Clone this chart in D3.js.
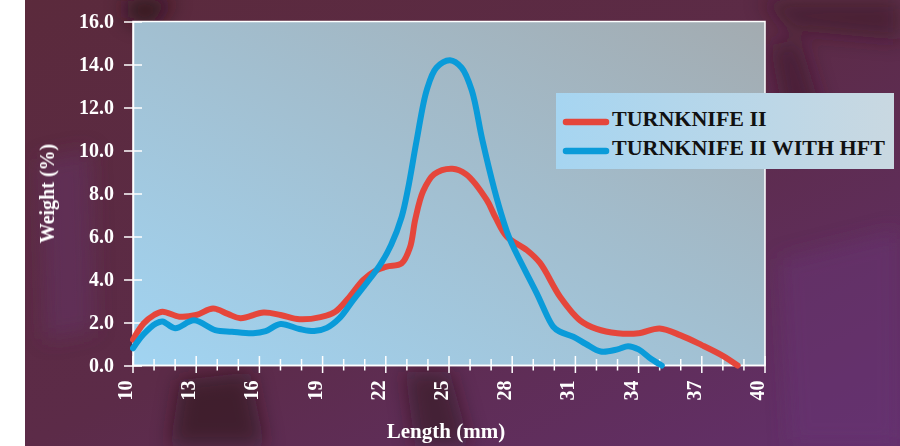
<!DOCTYPE html>
<html>
<head>
<meta charset="utf-8">
<script src="https://cdn.jsdelivr.net/npm/d3@7"></script>
<style>
  body { margin: 0; background: #fff; }
  svg { display: block; }
</style>
</head>
<body>
<svg id="chart"></svg>
<script>
// values: [length mm, weight %]
const turnknife = [
  [10, 1.2], [10.5, 1.95], [11, 2.35], [11.4, 2.5], [12.2, 2.27], [13, 2.35],
  [13.8, 2.65], [14.5, 2.4], [15.1, 2.2], [16.2, 2.46], [17, 2.35], [17.9, 2.15],
  [18.9, 2.25], [19.6, 2.5], [20.2, 3.1], [20.93, 3.98], [21.5, 4.4], [22.04, 4.6],
  [22.75, 4.75], [23.15, 5.5], [23.4, 6.8], [23.77, 8.1], [24.3, 8.9], [25.16, 9.15],
  [25.8, 8.9], [26.79, 7.7], [27.2, 6.9], [27.74, 6.0], [28.69, 5.37], [29.32, 4.77],
  [30.27, 3.2], [31.22, 2.1], [32, 1.7], [33, 1.5], [34, 1.5], [35, 1.72],
  [36, 1.4], [37, 0.95], [38, 0.45], [38.7, 0]
];
const turnknifeHft = [
  [10, 0.8], [10.5, 1.45], [11.1, 1.96], [11.4, 2.05], [12, 1.73], [12.9, 2.1],
  [13.9, 1.65], [14.7, 1.57], [15.7, 1.5], [16.3, 1.6], [17, 1.93], [17.9, 1.7],
  [18.6, 1.6], [19.2, 1.75], [19.8, 2.2], [20.46, 3.05], [21.1, 3.85], [21.72, 4.67],
  [22.25, 5.6], [22.75, 6.9], [23.05, 8.2], [23.47, 10.5], [23.94, 12.8], [24.4, 13.85],
  [25.05, 14.2], [25.6, 13.85], [26.08, 12.8], [26.58, 10.5], [27.15, 8.2], [27.56, 6.8],
  [27.9, 5.84], [29.16, 3.37], [29.95, 1.8], [30.27, 1.57], [30.9, 1.34], [31.5, 1.0],
  [32.2, 0.65], [33, 0.75], [33.5, 0.9], [34, 0.75], [34.6, 0.3], [35.1, 0]
];
const seriesNames = ["TURNKNIFE II", "TURNKNIFE II WITH HFT"];
const xTickLabels = [10, 13, 16, 19, 22, 25, 28, 31, 34, 37, 40];
const yTickLabels = [0, 2, 4, 6, 8, 10, 12, 14, 16];

const width = 900, height = 446;
const margin = { left: 133, right: 135, top: 21.5, bottom: 80.5 };
const colors = ["#e5463b", "#0a9bd9"];
const font = "'Liberation Serif', 'Times New Roman', serif";

const svg = d3.select("#chart").attr("width", width).attr("height", height);
const defs = svg.append("defs");

// backdrop (photo-like purple texture, starts 25px in from the left)
const bg = defs.append("linearGradient").attr("id", "bg")
  .attr("x1", 0).attr("y1", 0).attr("x2", 1).attr("y2", 1);
bg.append("stop").attr("offset", 0).attr("stop-color", "#5b2a3c");
bg.append("stop").attr("offset", 0.5).attr("stop-color", "#5c2b48");
bg.append("stop").attr("offset", 1).attr("stop-color", "#63306c");
defs.append("clipPath").attr("id", "bgclip")
  .append("rect").attr("x", 25).attr("y", 0).attr("width", width - 25).attr("height", height);
defs.append("filter").attr("id", "blur")
  .attr("filterUnits", "userSpaceOnUse")
  .attr("x", -100).attr("y", -100).attr("width", width + 200).attr("height", height + 200)
  .append("feGaussianBlur").attr("stdDeviation", 10);

const back = svg.append("g").attr("clip-path", "url(#bgclip)");
back.append("rect").attr("x", 25).attr("y", 0).attr("width", width - 25).attr("height", height)
  .attr("fill", "url(#bg)");
const blobs = back.append("g").attr("filter", "url(#blur)");
const shade = (pts, fill, op) => blobs.append("path")
  .attr("d", d3.line()(pts) + "Z").attr("fill", fill).attr("opacity", op);
shade([[125, 0], [175, 0], [150, 25], [128, 18]], "#240b14", 0.85);
shade([[180, 380], [250, 372], [265, 446], [170, 446]], "#2a0e16", 0.55);
shade([[405, 372], [450, 372], [470, 446], [415, 446]], "#2b0f18", 0.5);
shade([[770, 45], [800, 40], [830, 140], [790, 150]], "#3a1425", 0.55);
shade([[760, 0], [900, 0], [900, 40], [790, 30]], "#3a1426", 0.5);
shade([[40, 160], [90, 150], [95, 330], [45, 340]], "#66316d", 0.45);
shade([[780, 260], [900, 230], [900, 446], [790, 446]], "#693278", 0.45);

const x = d3.scaleLinear().domain([10, 40]).range([margin.left, width - margin.right]);
const y = d3.scaleLinear().domain([0, 16]).range([height - margin.bottom, margin.top]);

// plot area
const pg = defs.append("linearGradient").attr("id", "plotbg")
  .attr("x1", 0).attr("y1", 1).attr("x2", 1).attr("y2", 0);
pg.append("stop").attr("offset", 0).attr("stop-color", "#a1d4f2");
pg.append("stop").attr("offset", 1).attr("stop-color", "#a3abb0");
svg.append("rect")
  .attr("x", x(10)).attr("y", y(16))
  .attr("width", x(40) - x(10)).attr("height", y(0) - y(16))
  .attr("fill", "url(#plotbg)")
  .attr("stroke", "#fff").attr("stroke-width", 1.5);

// y axis
const yAxis = svg.append("g")
  .attr("transform", `translate(${x(10)},0)`)
  .call(d3.axisLeft(y).tickValues(yTickLabels).tickFormat(d3.format(".1f")).tickSize(0).tickPadding(19));
yAxis.select(".domain").attr("stroke", "#fff").attr("stroke-width", 1.5);
yAxis.selectAll(".tick line").attr("x1", -9).attr("x2", 9).attr("stroke", "#fff").attr("stroke-width", 1.5);
yAxis.selectAll(".tick text")
  .attr("fill", "#fff").attr("font-family", font).attr("font-weight", "bold").attr("font-size", 20);

// x axis: minor ticks every 1 mm, labelled every 3 mm
const xAxis = svg.append("g").attr("transform", `translate(0,${y(0)})`);
xAxis.append("line").attr("x1", x(10)).attr("x2", x(40)).attr("stroke", "#fff").attr("stroke-width", 1.5);
xAxis.selectAll(".minor").data(d3.range(10, 41)).join("line")
  .attr("x1", d => x(d)).attr("x2", d => x(d))
  .attr("y1", d => xTickLabels.includes(d) ? -9.5 : -6.5)
  .attr("y2", d => xTickLabels.includes(d) ? 7.5 : 5)
  .attr("stroke", "#fff").attr("stroke-width", 1.5);
xAxis.selectAll(".xlabel").data(xTickLabels).join("text")
  .attr("transform", d => `translate(${x(d) - 1},15) rotate(-90)`)
  .attr("text-anchor", "end")
  .attr("fill", "#fff").attr("font-family", font).attr("font-weight", "bold").attr("font-size", 20)
  .text(d => d);

// axis titles
svg.append("text")
  .attr("transform", `translate(54,${(y(0) + y(16)) / 2}) rotate(-90)`)
  .attr("text-anchor", "middle")
  .attr("fill", "#fff").attr("font-family", font).attr("font-weight", "bold").attr("font-size", 20)
  .text("Weight (%)");
svg.append("text")
  .attr("x", (x(10) + x(40)) / 2 - 3).attr("y", 438)
  .attr("text-anchor", "middle")
  .attr("fill", "#fff").attr("font-family", font).attr("font-weight", "bold").attr("font-size", 21)
  .text("Length (mm)");

// curves
const line = d3.line().x(d => x(d[0])).y(d => y(d[1])).curve(d3.curveCatmullRom.alpha(0.5));
[turnknife, turnknifeHft].forEach((s, i) => {
  svg.append("path").datum(s)
    .attr("d", line)
    .attr("fill", "none")
    .attr("stroke", colors[i])
    .attr("stroke-width", 6)
    .attr("stroke-linecap", "round")
    .attr("stroke-linejoin", "round");
});

// legend
const lg = defs.append("linearGradient").attr("id", "legbg");
lg.append("stop").attr("offset", 0).attr("stop-color", "#a6d5f1");
lg.append("stop").attr("offset", 1).attr("stop-color", "#c9d8e1");
const legend = svg.append("g").attr("transform", "translate(556,93)");
legend.append("rect").attr("width", 338).attr("height", 76).attr("fill", "url(#legbg)");
seriesNames.forEach((name, i) => {
  const ly = 29 + i * 29;
  legend.append("line")
    .attr("x1", 10).attr("x2", 50).attr("y1", ly).attr("y2", ly)
    .attr("stroke", colors[i]).attr("stroke-width", 6.5).attr("stroke-linecap", "round");
  legend.append("text")
    .attr("x", 56).attr("y", ly + 4)
    .attr("font-family", font).attr("font-weight", "bold").attr("font-size", 22)
    .attr("fill", "#111")
    .text(name);
});
</script>
</body>
</html>
